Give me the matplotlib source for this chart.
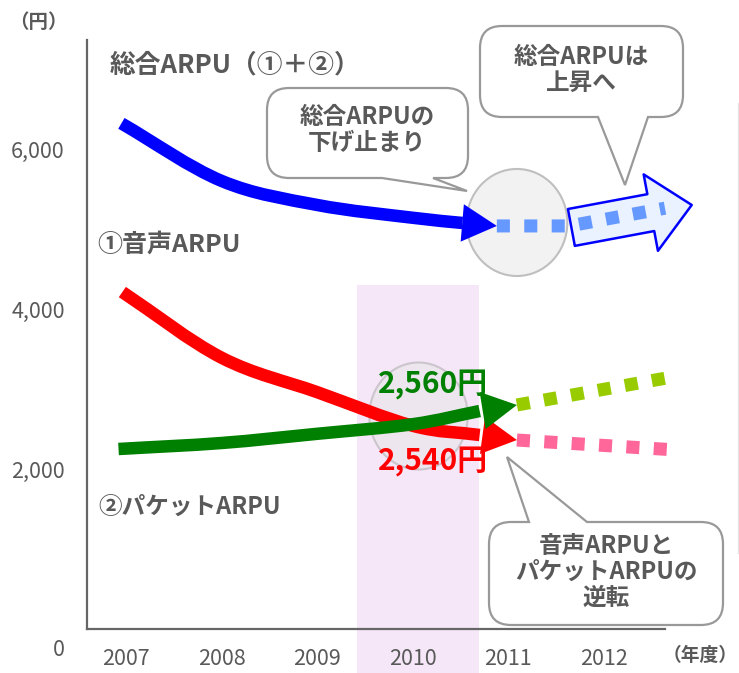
import numpy as np
import matplotlib
matplotlib.use('Agg')
import matplotlib.pyplot as plt
from matplotlib.path import Path
from matplotlib.patches import PathPatch, FancyArrowPatch, Ellipse, Rectangle
from matplotlib.transforms import Affine2D

plt.rcParams['font.family'] = ['Noto Sans CJK JP', 'DejaVu Sans']

W, H = 739, 673
GRAY = '#595959'

### Data (円 / 年度)
years = [2007, 2008, 2009, 2010, 2011, 2012]
yticks = [2000, 4000, 6000]

# 総合ARPU (①+②)
total_x = [2006.95, 2008, 2009, 2010, 2010.52]
total_y = [6320, 5600, 5300, 5140, 5075]
total_tip = (2010.88, 5038)
total_proj_x = [2010.88, 2011.64, 2012.64]
total_proj_y = [5038, 5038, 5260]

# ①音声ARPU
voice_x = [2006.96, 2008, 2009, 2010, 2010.70]
voice_y = [4212, 3390, 2960, 2540, 2425]
voice_tip = (2011.09, 2362)
voice_proj_x = [2011.09, 2012.77]
voice_proj_y = [2362, 2237]

# ②パケットARPU
packet_x = [2006.92, 2008, 2009, 2010, 2010.70]
packet_y = [2250, 2325, 2440, 2560, 2725]
packet_tip = (2011.09, 2800)
packet_proj_x = [2011.09, 2012.77]
packet_proj_y = [2800, 3162]

highlight_year = (2009.42, 2010.69)


def smooth_path(xs, ys):
    """Cubic bezier through the points (Catmull-Rom tangents)."""
    p = np.column_stack([xs, ys]).astype(float)
    verts = [p[0]]
    codes = [Path.MOVETO]
    n = len(p)
    for i in range(n - 1):
        d0 = (p[i + 1] - p[i - 1]) / 6 if i > 0 else (p[1] - p[0]) / 3
        d1 = (p[i + 2] - p[i]) / 6 if i + 2 < n else (p[-1] - p[-2]) / 3
        verts += [p[i] + d0, p[i + 1] - d1, p[i + 1]]
        codes += [Path.CURVE4] * 3
    return Path(verts, codes)


def bubble(x0, y0, x1, y1, side, b0, b1, tip, r=22):
    """Rounded callout box with a pointed tail, in pixel coords (y down)."""
    v = [(x0 + r, y0)]
    c = [Path.MOVETO]
    if side == 'top':
        v += [(b0, y0), tip, (b1, y0)]
        c += [Path.LINETO] * 3
    v += [(x1 - r, y0), (x1, y0), (x1, y0 + r), (x1, y1 - r), (x1, y1), (x1 - r, y1)]
    c += [Path.LINETO, Path.CURVE3, Path.CURVE3, Path.LINETO, Path.CURVE3, Path.CURVE3]
    if side == 'bottom':
        v += [(b1, y1), tip, (b0, y1)]
        c += [Path.LINETO] * 3
    v += [(x0 + r, y1), (x0, y1), (x0, y1 - r), (x0, y0 + r), (x0, y0), (x0 + r, y0)]
    c += [Path.LINETO, Path.CURVE3, Path.CURVE3, Path.LINETO, Path.CURVE3, Path.CURVE3]
    return Path(v, c)


fig = plt.figure(figsize=(W / 100, H / 100), dpi=100)
ax = fig.add_axes([87 / W, (H - 629) / H, 578 / W, 589 / H])
ax.set_xlim(2006.59, 2012.64)
ax.set_ylim(0, 7362)
px = Affine2D().scale(1 / W, -1 / H).translate(0, 1) + fig.transFigure

for s in ['top', 'right']:
    ax.spines[s].set_visible(False)
for s in ['left', 'bottom']:
    ax.spines[s].set_color('#666666')
    ax.spines[s].set_linewidth(1.6)

ax.set_xticks(years)
ax.set_xticklabels([str(y) for y in years], fontsize=15.5, color=GRAY)
ax.set_yticks(yticks)
ax.set_yticklabels([f'{v:,}' for v in yticks], fontsize=15.5, color=GRAY)
ax.tick_params(length=0)
ax.tick_params(axis='x', pad=14)
ax.tick_params(axis='y', pad=16)
fig.text(65, 650, '0', transform=px, ha='right', va='center', fontsize=15.5, color=GRAY)

# highlighted year band
ax.add_patch(Rectangle((highlight_year[0], -600), highlight_year[1] - highlight_year[0], 4900,
                       facecolor='#F5E6F8', edgecolor='none', zorder=0.5, clip_on=False))

# focus circles
ax.add_patch(Ellipse((2011.09, 5081), 1.056, 1338, facecolor='#F2F2F2',
                     edgecolor='#BFBFBF', lw=1.5, zorder=1))
ax.add_patch(Ellipse((2010.06, 2662), 1.03, 1338, facecolor='#E6E6E6', alpha=0.5,
                     edgecolor='#A6A6A6', lw=1.5, zorder=1))

# rising hollow arrow for the total
ax.add_patch(FancyArrowPatch((2011.66, 5019), (2012.92, 5300),
                             arrowstyle='simple,head_length=30,head_width=56,tail_width=27',
                             mutation_scale=1, shrinkA=0, shrinkB=0, facecolor='#EAF2FF',
                             edgecolor='#0000FF', lw=1.8, zorder=1.5, clip_on=False))

series = [
    (total_x, total_y, total_tip, '#0000FF'),
    (voice_x, voice_y, voice_tip, '#FF0000'),
    (packet_x, packet_y, packet_tip, '#008000'),
]
for xs, ys, tip, color in series:
    ax.add_patch(PathPatch(smooth_path(xs, ys), fill=False, edgecolor=color,
                           lw=9, capstyle='butt', zorder=2))
    ax.add_patch(FancyArrowPatch((xs[-1], ys[-1]), tip,
                                 arrowstyle='-|>,head_length=25,head_width=13.5',
                                 mutation_scale=1, shrinkA=0, shrinkB=0, color=color,
                                 lw=0, zorder=2.1, clip_on=False))

# projections
proj = [
    (total_proj_x, total_proj_y, '#6699FF'),
    (voice_proj_x, voice_proj_y, '#FF6699'),
    (packet_proj_x, packet_proj_y, '#99CC00'),
]
for xs, ys, color in proj:
    ax.plot(xs, ys, color=color, lw=9.4, dashes=(1.0, 1.1), dash_capstyle='butt',
            solid_joinstyle='miter', zorder=2.2, clip_on=False)

# callouts
callouts = [
    ((267, 88, 468, 178, 'bottom', 382, 433, (467, 191)), (367, 130), '総合ARPUの\n下げ止まり'),
    ((480, 26, 683, 117, 'bottom', 598, 648, (625, 185)), (581, 70), '総合ARPUは\n上昇へ'),
    ((489, 522, 723, 625, 'top', 529, 587, (507, 457)), (606, 572), '音声ARPUと\nパケットARPUの\n逆転'),
]
for args, (tx, ty), label in callouts:
    fig.patches.append(PathPatch(bubble(*args), transform=px, facecolor='white',
                                 edgecolor='#999999', lw=1.6, zorder=3))
    fig.text(tx, ty, label, transform=px, ha='center', va='center', fontsize=17,
             fontweight='bold', color=GRAY, linespacing=1.1, zorder=4)

# series labels
fig.text(110, 65, '総合ARPU（①＋②）', transform=px, ha='left', va='center',
         fontsize=18.5, fontweight='bold', color=GRAY)
fig.text(97, 245, '①音声ARPU', transform=px, ha='left', va='center',
         fontsize=18, fontweight='bold', color=GRAY)
fig.text(98, 507, '②パケットARPU', transform=px, ha='left', va='center',
         fontsize=17, fontweight='bold', color=GRAY)

# crossover values
fig.text(433, 385, f'{packet_y[3]:,}円', transform=px, ha='center', va='center',
         fontsize=21.5, fontweight='bold', color='#008000', zorder=5)
fig.text(433, 462, f'{voice_y[3]:,}円', transform=px, ha='center', va='center',
         fontsize=21.5, fontweight='bold', color='#FF0000', zorder=5)

# unit labels
fig.text(38, 23, '（円）', transform=px, ha='center', va='center', fontsize=14,
         fontweight='bold', color=GRAY)
fig.text(700, 655, '（年度）', transform=px, ha='center', va='center', fontsize=13.5,
         fontweight='bold', color=GRAY)

fig.lines.append(plt.Line2D([738, 738], [103, 553], transform=px, color='#E6E6E6', lw=1))

fig.savefig('out.png', dpi=100)
